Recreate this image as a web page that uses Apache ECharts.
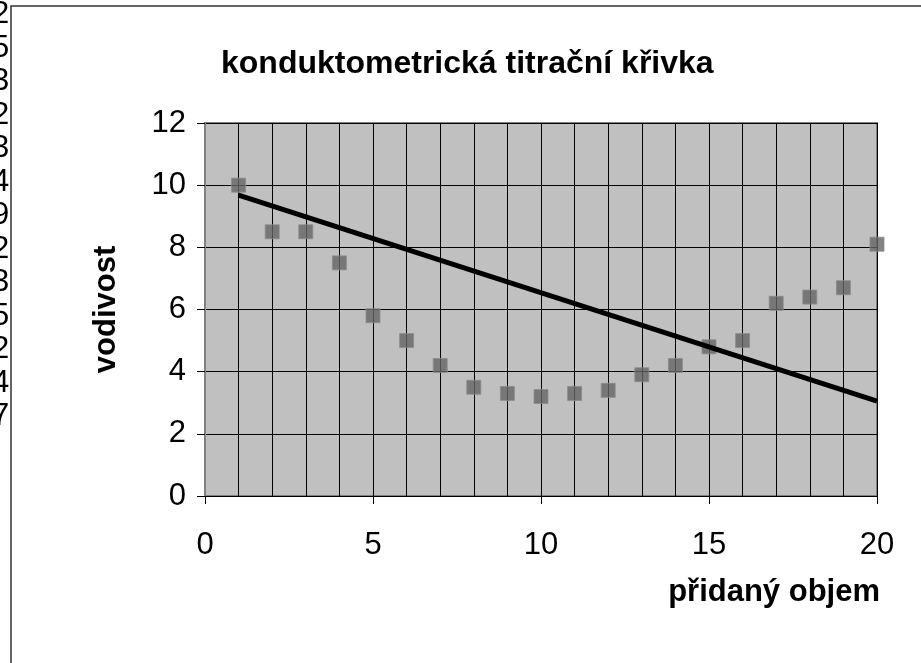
<!DOCTYPE html>
<html>
<head>
<meta charset="utf-8">
<script src="https://cdn.jsdelivr.net/npm/echarts@6/dist/echarts.min.js"></script>
<style>
html, body { margin: 0; padding: 0; background: #fff; }
#main { width: 921px; height: 663px; }
</style>
</head>
<body>
<div id="main"></div>
<script>
// added volume (x) and measured conductivity (y)
var objem = [1, 2, 3, 4, 5, 6, 7, 8, 9, 10, 11, 12, 13, 14, 15, 16, 17, 18, 19, 20];
var vodivost = [10.0, 8.5, 8.5, 7.5, 5.8, 5.0, 4.2, 3.5, 3.3, 3.2, 3.3, 3.4, 3.9, 4.2, 4.8, 5.0, 6.2, 6.4, 6.7, 8.1];
// linear trend line end points
var trendX = [1, 20];
var trendY = [9.68, 3.05];
// clipped column of digits at the left edge
var edgeDigits = ['2', '5', '3', '2', '3', '4', '9', '2', '3', '5', '2', '4', '7'];

var font = 'Arial, "Liberation Sans", sans-serif';
var myChart = echarts.init(document.getElementById('main'));

var points = objem.map(function (x, i) { return [x, vodivost[i]]; });
var trend = trendX.map(function (x, i) { return [x, trendY[i]]; });

option = {
    backgroundColor: '#fff',
    animation: false,
    title: {
        text: 'konduktometrická titrační křivka',
        left: 216,
        top: 43,
        textStyle: { fontFamily: font, fontSize: 32, fontWeight: 'bold', color: '#000' }
    },
    grid: {
        left: 205,
        top: 123,
        right: 44,
        bottom: 167,
        show: true,
        backgroundColor: '#c0c0c0',
        borderColor: '#808080',
        borderWidth: 2
    },
    xAxis: {
        type: 'value',
        min: 0,
        max: 20,
        interval: 5,
        name: 'přidaný objem',
        nameLocation: 'end',
        nameGap: 3,
        nameTextStyle: {
            fontFamily: font, fontSize: 31, fontWeight: 'bold', color: '#000',
            align: 'right', verticalAlign: 'top', padding: [81, 0, 0, 0]
        },
        axisLine: { show: true, lineStyle: { color: '#000', width: 1 } },
        axisTick: { show: true, length: 8, lineStyle: { color: '#000' } },
        axisLabel: { margin: 34, fontFamily: font, fontSize: 31, color: '#000' },
        splitLine: { show: true, lineStyle: { color: '#000', width: 1 } },
        minorTick: { show: false, splitNumber: 5 },
        minorSplitLine: { show: true, lineStyle: { color: '#000', width: 1 } }
    },
    yAxis: {
        type: 'value',
        min: 0,
        max: 12,
        interval: 2,
        name: 'vodivost',
        nameLocation: 'middle',
        nameGap: 83,
        nameRotate: 90,
        nameTextStyle: { fontFamily: font, fontSize: 31, fontWeight: 'bold', color: '#000' },
        axisLine: { show: true, lineStyle: { color: '#808080', width: 2 } },
        axisTick: { show: true, length: 8, lineStyle: { color: '#000' } },
        axisLabel: { margin: 19, fontFamily: font, fontSize: 31, color: '#000' },
        splitLine: { show: true, lineStyle: { color: '#000', width: 1 } }
    },
    graphic: [
        {
            type: 'rect',
            shape: { x: 11, y: 6, width: 1000, height: 1000 },
            style: { fill: 'none', stroke: '#333', lineWidth: 1.5 },
            silent: true
        },
        {
            type: 'text',
            left: -8,
            top: -2,
            style: {
                text: edgeDigits.join('\n'),
                font: '31px ' + font,
                lineHeight: 33.5,
                fill: '#000'
            },
            silent: true
        }
    ],
    series: [
        {
            name: 'vodivost',
            type: 'scatter',
            data: points,
            symbol: 'rect',
            symbolSize: 14,
            itemStyle: { color: '#646464', borderColor: '#8c8c8c', borderWidth: 1 },
            z: 3
        },
        {
            name: 'trend',
            type: 'line',
            data: trend,
            symbol: 'none',
            lineStyle: { color: '#000', width: 5 },
            z: 4
        }
    ]
};

myChart.setOption(option);
</script>
</body>
</html>
